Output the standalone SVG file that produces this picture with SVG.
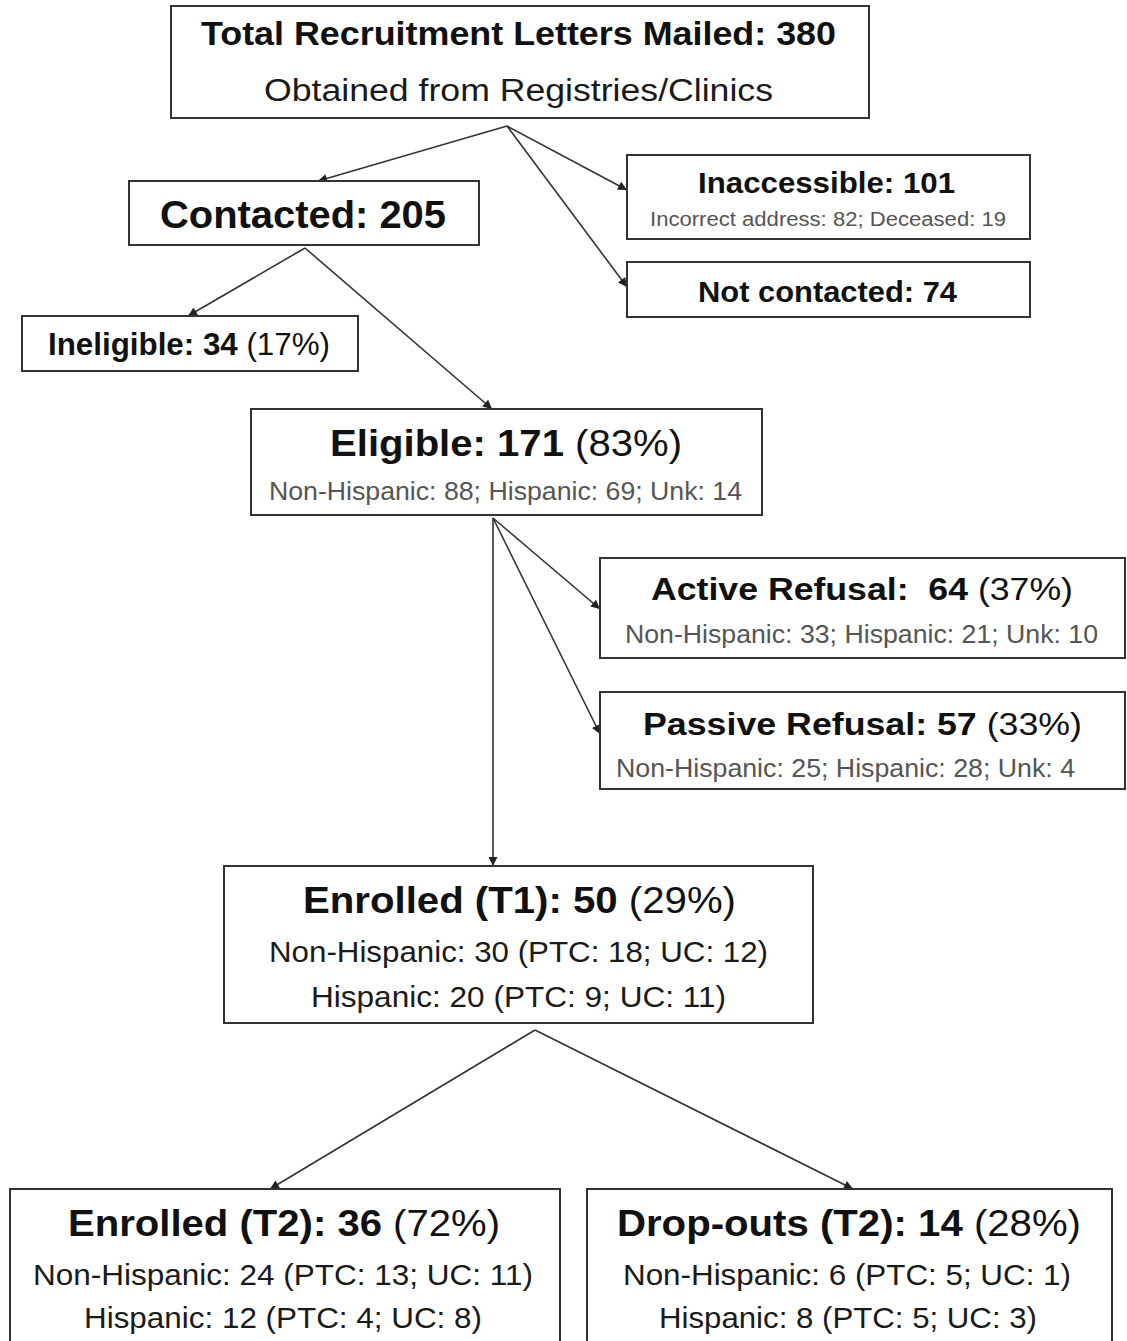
<svg xmlns="http://www.w3.org/2000/svg" width="1127" height="1341" viewBox="0 0 1127 1341">
<style>
.box{fill:#fff;stroke:#333;stroke-width:2}
.t{font-family:"Liberation Sans",Arial,sans-serif;text-anchor:middle;fill:#111}
.b{font-weight:bold}
.g{fill:#555}
.k{fill:#1a1a1a}
.c{stroke:#333;stroke-width:1.6;fill:none;marker-end:url(#ah)}
</style>
<defs>
<marker id="ah" viewBox="0 0 10 10" refX="10" refY="5" markerWidth="11" markerHeight="9" orient="auto" markerUnits="userSpaceOnUse">
<path d="M0,0 L10,5 L0,10 z" fill="#222"/>
</marker>
</defs>
<rect width="1127" height="1341" fill="#fff"/>
<g id="connectors">
<path class="c" d="M507,126 L318,181"/>
<path class="c" d="M507,126 L627,190"/>
<path class="c" d="M507,126 L627,287"/>
<path class="c" d="M305,248 L188,316"/>
<path class="c" d="M305,248 L492,409"/>
<path class="c" d="M493,518 L600,609"/>
<path class="c" d="M493,518 L600,734"/>
<path class="c" d="M493,518 L493,866"/>
<path class="c" d="M535,1030 L270,1189"/>
<path class="c" d="M535,1030 L853,1189"/>
</g>
<g id="total">
<rect class="box" x="171" y="6" width="698" height="112"/>
<text class="t b" x="518.5" y="45" font-size="33" textLength="635" lengthAdjust="spacingAndGlyphs">Total Recruitment Letters Mailed: 380</text>
<text class="t k" x="518.5" y="101" font-size="31" textLength="509" lengthAdjust="spacingAndGlyphs">Obtained from Registries/Clinics</text>
</g>
<g id="contacted">
<rect class="box" x="129" y="181" width="350" height="64"/>
<text class="t b" x="303" y="228" font-size="39" textLength="286" lengthAdjust="spacingAndGlyphs">Contacted: 205</text>
</g>
<g id="inaccessible">
<rect class="box" x="627" y="155" width="403" height="84"/>
<text class="t b" x="826.5" y="193" font-size="30" textLength="257" lengthAdjust="spacingAndGlyphs">Inaccessible: 101</text>
<text class="t g" x="828" y="226" font-size="20" textLength="356" lengthAdjust="spacingAndGlyphs">Incorrect address: 82; Deceased: 19</text>
</g>
<g id="notcontacted">
<rect class="box" x="627" y="262" width="403" height="55"/>
<text class="t b" x="827.5" y="302" font-size="30" textLength="259" lengthAdjust="spacingAndGlyphs">Not contacted: 74</text>
</g>
<g id="ineligible">
<rect class="box" x="22" y="316" width="336" height="55"/>
<text class="t" x="189" y="355" font-size="31" textLength="282" lengthAdjust="spacingAndGlyphs"><tspan class="b">Ineligible: 34</tspan> (17%)</text>
</g>
<g id="eligible">
<rect class="box" x="251" y="409" width="511" height="106"/>
<text class="t" x="506" y="456" font-size="36" textLength="352" lengthAdjust="spacingAndGlyphs"><tspan class="b">Eligible: 171</tspan> (83%)</text>
<text class="t g" x="505.5" y="500" font-size="25" textLength="473" lengthAdjust="spacingAndGlyphs">Non-Hispanic: 88; Hispanic: 69; Unk: 14</text>
</g>
<g id="active">
<rect class="box" x="600" y="558" width="525" height="100"/>
<text class="t" x="862" y="600" font-size="32" textLength="422" lengthAdjust="spacingAndGlyphs" xml:space="preserve"><tspan class="b">Active Refusal:  64</tspan> (37%)</text>
<text class="t g" x="861.5" y="643" font-size="26" textLength="473" lengthAdjust="spacingAndGlyphs">Non-Hispanic: 33; Hispanic: 21; Unk: 10</text>
</g>
<g id="passive">
<rect class="box" x="600" y="692" width="525" height="97"/>
<text class="t" x="862.5" y="735" font-size="32" textLength="439" lengthAdjust="spacingAndGlyphs"><tspan class="b">Passive Refusal: 57</tspan> (33%)</text>
<text class="t g" x="845.5" y="777" font-size="26" textLength="459" lengthAdjust="spacingAndGlyphs">Non-Hispanic: 25; Hispanic: 28; Unk: 4</text>
</g>
<g id="enrolledT1">
<rect class="box" x="224" y="866" width="589" height="157"/>
<text class="t" x="519.5" y="913" font-size="37" textLength="433" lengthAdjust="spacingAndGlyphs"><tspan class="b">Enrolled (T1): 50</tspan> (29%)</text>
<text class="t k" x="518.5" y="962" font-size="29" textLength="499" lengthAdjust="spacingAndGlyphs">Non-Hispanic: 30 (PTC: 18; UC: 12)</text>
<text class="t k" x="518.5" y="1007" font-size="29" textLength="415" lengthAdjust="spacingAndGlyphs">Hispanic: 20 (PTC: 9; UC: 11)</text>
</g>
<g id="enrolledT2">
<rect class="box" x="10" y="1189" width="550" height="160"/>
<text class="t" x="284" y="1236" font-size="37" textLength="432" lengthAdjust="spacingAndGlyphs"><tspan class="b">Enrolled (T2): 36</tspan> (72%)</text>
<text class="t k" x="283" y="1285" font-size="29" textLength="500" lengthAdjust="spacingAndGlyphs">Non-Hispanic: 24 (PTC: 13; UC: 11)</text>
<text class="t k" x="283" y="1328" font-size="29" textLength="398" lengthAdjust="spacingAndGlyphs">Hispanic: 12 (PTC: 4; UC: 8)</text>
</g>
<g id="dropouts">
<rect class="box" x="587" y="1189" width="525" height="160"/>
<text class="t" x="849" y="1236" font-size="37" textLength="464" lengthAdjust="spacingAndGlyphs"><tspan class="b">Drop-outs (T2): 14</tspan> (28%)</text>
<text class="t k" x="847" y="1285" font-size="29" textLength="448" lengthAdjust="spacingAndGlyphs">Non-Hispanic: 6 (PTC: 5; UC: 1)</text>
<text class="t k" x="848" y="1328" font-size="29" textLength="378" lengthAdjust="spacingAndGlyphs">Hispanic: 8 (PTC: 5; UC: 3)</text>
</g>
</svg>
